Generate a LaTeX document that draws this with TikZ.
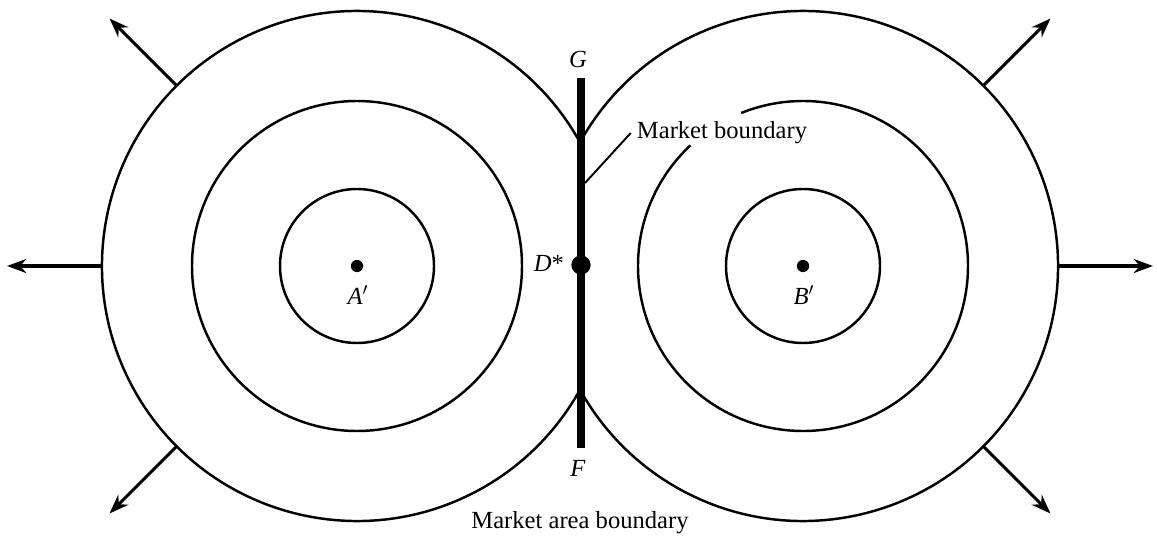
\documentclass[tikz,border=0pt]{standalone}
\usepackage{fontspec}
\setmainfont{Liberation Serif}
\usetikzlibrary{arrows.meta, calc}

\begin{document}
\begin{tikzpicture}[
  x=0.02cm, y=0.02cm,
  ring/.style={line width=1.4pt},
  leader/.style={line width=1.1pt},
  spread/.style={-{Stealth[length=11pt, width=8pt]}, line width=1.8pt},
  dot/.style={circle, fill, inner sep=0pt, minimum size=#1},
  lbl/.style={font=\fontsize{14}{16}\selectfont}
  ]
\useasboundingbox (0,0) rectangle (1157,535);

% Centres
\node[dot=7pt] (A) at (357,269) {};
\node[dot=7pt] (B) at (803,269) {};

% Rings round A
\draw[ring] (A) circle [radius=77];
\draw[ring] (A) circle [radius=165];
\draw[ring] ($(A)+(29:255)$) arc [start angle=29, end angle=331, radius=255];

% Rings round B
\draw[ring] (B) circle [radius=77];
\draw[ring] ($(B)+(133:165)$) arc [start angle=133, end angle=472, radius=165];
\draw[ring] ($(B)+(151:255)$) arc [start angle=151, end angle=-151, radius=255];

% Boundary line
\coordinate (G) at (581,457);
\coordinate (F) at (581,87);
\draw[line width=5pt] (G) -- (F);
\node[dot=11pt] (D) at (581,270) {};

% Labels
\node[lbl] (glab) at (578,476) {\textit{G}};
\node[lbl] (flab) at (578,67) {\textit{F}};
\node[lbl] (dlab) at (549,272) {\textit{D}*};
\node[lbl] (alab) at (358,240) {\textit{A}$'$};
\node[lbl] (blab) at (804,240) {\textit{B}$'$};
\node[lbl] (mb) at (722,402) {Market boundary};
\node[lbl] (mab) at (580,12) {Market area boundary};

% Leader
\coordinate (mbfoot) at (585,352);
\draw[leader] (mb.west) -- (mbfoot);

% Arrows
\foreach \ang in {135,180,225}
  \draw[spread] ($(A)+(\ang:255)$) -- ($(A)+(\ang:350)$);
\foreach \ang in {45,0,-45}
  \draw[spread] ($(B)+(\ang:255)$) -- ($(B)+(\ang:350)$);

\end{tikzpicture}
\end{document}
